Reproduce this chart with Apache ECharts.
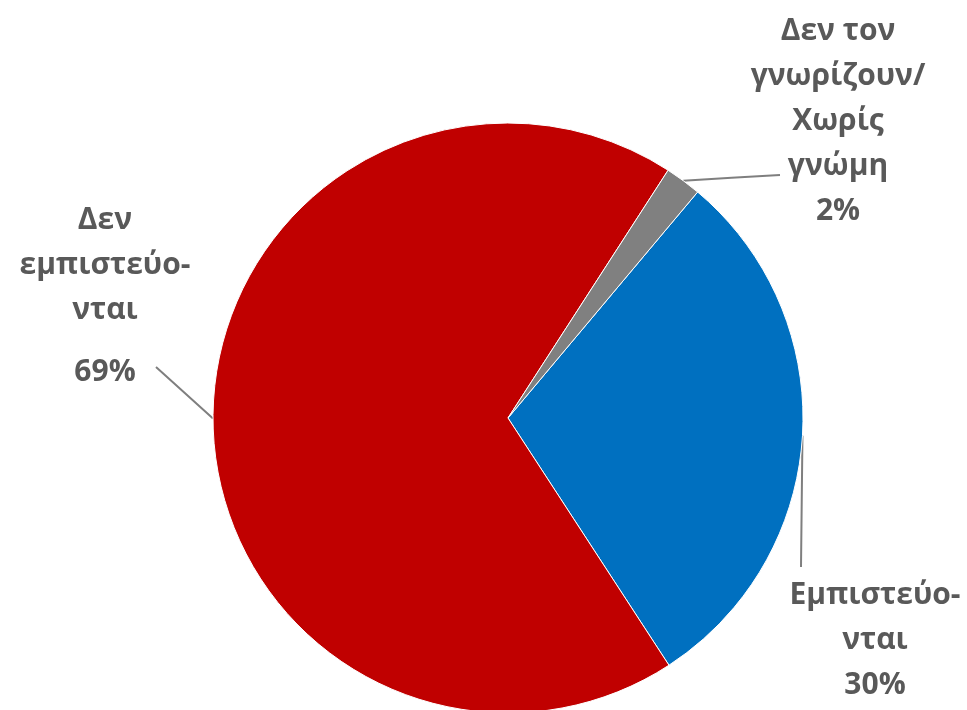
<!DOCTYPE html>
<html>
<head>
<meta charset="utf-8">
<script src="https://cdn.jsdelivr.net/npm/echarts@6/dist/echarts.min.js"></script>
<style>
html,body{margin:0;padding:0;background:#fff;}
#chart{width:967px;height:710px;}
</style>
</head>
<body>
<div id="chart"></div>
<script>
const categories = ['Εμπιστεύο-\nνται', 'Δεν\nεμπιστεύο-\nνται', 'Δεν τον\nγνωρίζουν/\nΧωρίς\nγνώμη'];
const values = [30, 69, 2];
const valueLabels = ['30%', '69%', '2%'];
const colors = ['#0070C0', '#C00000', '#808080'];

// label layout (centre of text block, end of leader line)
const labelPos = [
  {x: 875, y: 640, end: [801, 567], vStyle: 'v'},
  {x: 105, y: 304.5, end: [156, 367], vStyle: 'v2'},
  {x: 838, y: 121, end: [780, 175], vStyle: 'v'}
];

const chart = echarts.init(document.getElementById('chart'));
const font = '"Open Sans", sans-serif';
const fs = 30;
chart.setOption({
  animation: false,
  backgroundColor: '#fff',
  series: [{
    type: 'pie',
    center: [508, 418],
    radius: 295,
    startAngle: 50,
    clockwise: true,
    data: categories.map((c, i) => ({
      name: c, value: values[i],
      itemStyle: {color: colors[i]}
    })),
    itemStyle: {borderColor: '#fff', borderWidth: 1},
    label: {
      show: true,
      position: 'outside',
      overflow: 'none',
      width: 400,
      formatter: function (p) {
        const lines = p.name.split('\n').map(s => '{n|' + s + '}');
        lines.push('{' + labelPos[p.dataIndex].vStyle + '|' + valueLabels[p.dataIndex] + '}');
        return lines.join('\n');
      },
      rich: {
        n: {fontFamily: font, fontWeight: 'bold', fontSize: fs, color: '#595959', lineHeight: 45, align: 'center'},
        v: {fontFamily: font, fontWeight: 'bold', fontSize: fs, color: '#595959', lineHeight: 45, align: 'center'},
        v2: {fontFamily: font, fontWeight: 'bold', fontSize: fs, color: '#595959', lineHeight: 79, align: 'center'}
      }
    },
    labelLine: {
      show: true,
      lineStyle: {color: '#7F7F7F', width: 2}
    },
    labelLayout: function (params) {
      const lp = labelPos[params.dataIndex];
      const p0 = params.labelLinePoints[0];
      const mid = [(p0[0] + lp.end[0]) / 2, (p0[1] + lp.end[1]) / 2];
      return {
        x: lp.x, y: lp.y,
        align: 'center', verticalAlign: 'middle',
        labelLinePoints: [p0, mid, lp.end]
      };
    }
  }]
});
</script>
</body>
</html>
